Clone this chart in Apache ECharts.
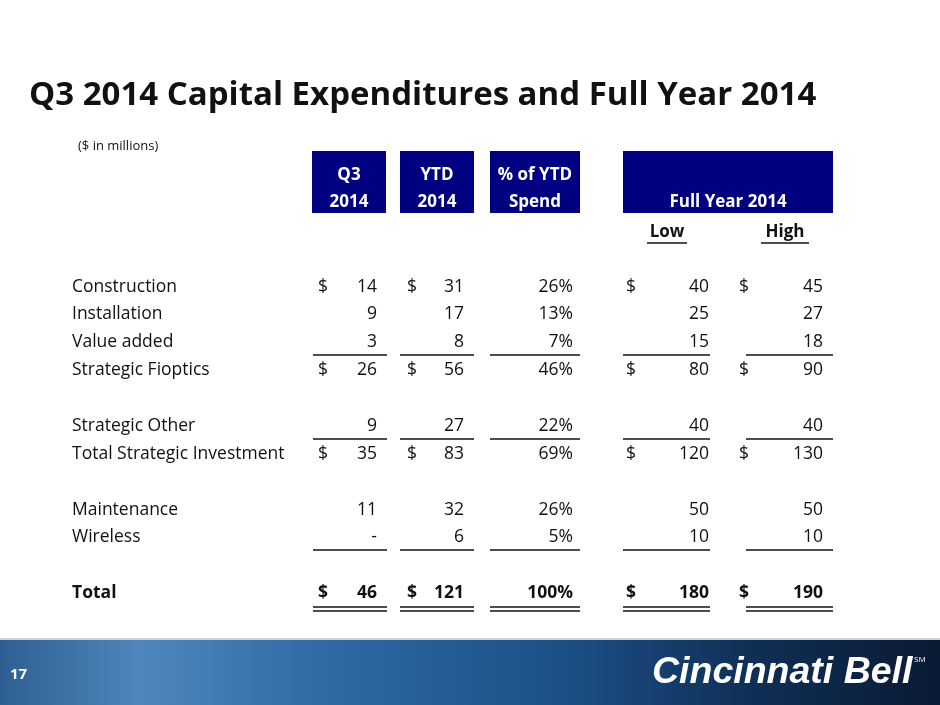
<!DOCTYPE html>
<html><head><meta charset="utf-8">
<script src="https://cdn.jsdelivr.net/npm/echarts@6/dist/echarts.min.js"></script>
<style>html,body{margin:0;padding:0;background:#fff}#c{width:940px;height:705px}</style>
</head><body><div id="c"></div>
<script>
const title = 'Q3 2014 Capital Expenditures and Full Year 2014';
const subtitle = '($ in millions)';
const headers = [['Q3','2014'],['YTD','2014'],['% of YTD','Spend'],['','Full Year 2014']];
const subHeaders = ['Low','High'];
const rowLabels = ['Construction','Installation','Value added','Strategic Fioptics','Strategic Other','Total Strategic Investment','Maintenance','Wireless','Total'];
const q3 = ['14','9','3','26','9','35','11','-','46'];
const ytd = ['31','17','8','56','27','83','32','6','121'];
const pct = ['26%','13%','7%','46%','22%','69%','26%','5%','100%'];
const low = ['40','25','15','80','40','120','50','10','180'];
const high = ['45','27','18','90','40','130','50','10','190'];
const dollarRows = [0,3,5,8];

const rowY = [287,314,342,370,426,454,510,537,593];
const F = '"Open Sans", sans-serif';
const g = [];
const txt = (x,y,s,o={}) => g.push({type:'text',x,y,style:{text:s,font:`${o.w||'normal'} ${o.size||17.5}px ${F}`,fill:o.fill||'#111',textAlign:o.align||'left',textVerticalAlign:'middle'}});
txt(29,96,title,{w:'bold',size:33});
txt(78,146,subtitle,{size:13});
const boxes=[[312,386],[400,474],[490,580],[623,833]];
boxes.forEach((b,i)=>{
  g.push({type:'rect',shape:{x:b[0],y:151,width:b[1]-b[0],height:62},style:{fill:'#000080'}});
  const cx=(b[0]+b[1])/2;
  txt(cx,175,headers[i][0],{w:'bold',size:17,fill:'#fff',align:'center'});
  txt(i===3?728:cx,202,headers[i][1],{w:'bold',size:17,fill:'#fff',align:'center'});
});
[[667,subHeaders[0]],[785,subHeaders[1]]].forEach(([x,s])=>{
  txt(x,232,s,{w:'bold',size:17,align:'center'});
  const wd = s==='Low'?40:48;
  g.push({type:'line',shape:{x1:x-wd/2,y1:243,x2:x+wd/2,y2:243},style:{stroke:'#111',lineWidth:1.3}});
});
const cols=[{d:323,v:377,a:q3},{d:412,v:464,a:ytd},{d:null,v:573,a:pct},{d:631,v:709,a:low},{d:744,v:823,a:high}];
rowY.forEach((y,r)=>{
  const b = r===8 ? 'bold':'normal';
  txt(72,y,rowLabels[r],{w:b});
  cols.forEach(c=>{
    if(c.d!==null && dollarRows.includes(r)) txt(c.d,y,'$',{w:b,align:'center'});
    txt(c.v,y,c.a[r],{w:b,align:'right'});
  });
});
const segs=[[313,387],[400,474],[490,580],[623,710],[746,833]];
const line=(y)=>segs.forEach(s=>g.push({type:'line',shape:{x1:s[0],y1:y,x2:s[1],y2:y},style:{stroke:'#111',lineWidth:1.3}}));
[355,439,550,607,611].forEach(line);
g.push({type:'rect',shape:{x:0,y:638,width:940,height:2},style:{fill:'#d0d0d0'}});
g.push({type:'rect',shape:{x:0,y:640,width:940,height:65},style:{fill:new echarts.graphic.LinearGradient(0,0,1,0,[{offset:0,color:'#2f5f92'},{offset:0.15,color:'#4f86bd'},{offset:0.35,color:'#2f6aa4'},{offset:0.6,color:'#1c4f86'},{offset:0.8,color:'#0f2f56'},{offset:1,color:'#0a1a33'}])}});
txt(10,675,'17',{w:'bold',size:15,fill:'#fff'});
g.push({type:'text',x:652,y:673,style:{text:'Cincinnati Bell',font:`italic bold 37.5px "Liberation Sans", sans-serif`,fill:'#fff',textVerticalAlign:'middle'}});
txt(914,660,'SM',{size:8,fill:'#fff'});
const chart=echarts.init(document.getElementById('c'));
chart.setOption({animation:false,graphic:{elements:g}});
</script></body></html>
